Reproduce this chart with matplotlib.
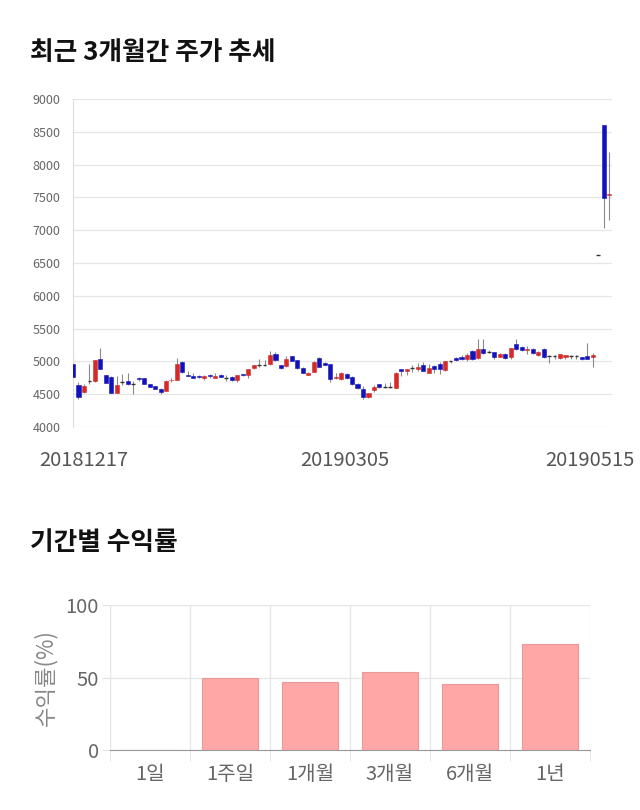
import matplotlib
matplotlib.use('Agg')
import matplotlib.pyplot as plt
import numpy as np

plt.rcParams['font.family'] = ['Noto Sans CJK KR', 'DejaVu Sans']

# daily candles, 20181217 ~ 20190515
opens = [4955, 4640, 4540, 4700, 4700, 5030, 4790, 4760, 4525, 4680,
         4700, 4660, 4750, 4745, 4650, 4625, 4585, 4550, 4710, 4715,
         4995, 4800, 4780, 4770, 4740, 4795, 4750, 4800, 4750, 4760,
         4720, 4810, 4800, 4895, 4940, 4945, 4955, 5115, 4940, 4930,
         5080, 5015, 4905, 4800, 4840, 5055, 4980, 4955, 4740, 4727,
         4813, 4762, 4660, 4585, 4450, 4560, 4650, 4610, 4610, 4600,
         4880, 4855, 4895, 4885, 4950, 4830, 4930, 4955, 4865, 5000,
         5045, 5065, 5030, 5165, 5055, 5190, 5145, 5145, 5070, 5120,
         5065, 5270, 5215, 5175, 5190, 5105, 5190, 5080, 5075, 5045,
         5060, 5080, 5080, 5065, 5075, 5065, 6622, 8604, 7540]
closes = [4760, 4450, 4625, 4700, 5015, 4890, 4675, 4525, 4640, 4680,
          4660, 4660, 4730, 4660, 4615, 4585, 4540, 4700, 4715, 4965,
          4840, 4780, 4750, 4755, 4780, 4775, 4780, 4765, 4750, 4710,
          4790, 4790, 4880, 4945, 4940, 4945, 5095, 5015, 4895, 5030,
          5005, 4895, 4830, 4830, 4995, 4920, 4945, 4730, 4760, 4830,
          4742, 4650, 4590, 4450, 4515, 4610, 4610, 4610, 4610, 4830,
          4855, 4880, 4895, 4920, 4855, 4905, 4890, 4880, 5005, 5000,
          5020, 5030, 5095, 5030, 5195, 5130, 5145, 5070, 5120, 5055,
          5205, 5190, 5170, 5185, 5125, 5145, 5070, 5080, 5075, 5115,
          5090, 5080, 5080, 5030, 5040, 5095, 6622, 7487, 7556]
highs = [5130, 4680, 4660, 4955, 5020, 5200, 4800, 4770, 4780, 4810,
         4820, 4700, 4760, 4750, 4660, 4630, 4600, 4720, 4740, 5045,
         5000, 4860, 4820, 4800, 4800, 4810, 4830, 4810, 4800, 4770,
         4800, 4815, 4885, 4950, 5030, 5020, 5165, 5150, 4945, 5080,
         5085, 5020, 4910, 4840, 5000, 5060, 4990, 4960, 4820, 4840,
         4820, 4770, 4665, 4620, 4520, 4640, 4660, 4670, 4690, 4840,
         4885, 4890, 4940, 4980, 4990, 4960, 4950, 4990, 5010, 5010,
         5060, 5090, 5130, 5170, 5340, 5340, 5170, 5150, 5130, 5130,
         5210, 5340, 5230, 5230, 5200, 5160, 5200, 5090, 5090, 5120,
         5095, 5090, 5090, 5070, 5280, 5130, 6622, 8604, 8197]
lows = [4750, 4420, 4520, 4650, 4680, 4890, 4670, 4520, 4520, 4640,
        4640, 4510, 4700, 4650, 4610, 4580, 4500, 4545, 4690, 4710,
        4830, 4770, 4740, 4740, 4720, 4740, 4740, 4760, 4700, 4700,
        4690, 4785, 4740, 4890, 4920, 4930, 4940, 5010, 4880, 4920,
        5000, 4890, 4820, 4790, 4835, 4910, 4940, 4680, 4730, 4720,
        4730, 4640, 4585, 4425, 4445, 4540, 4600, 4600, 4600, 4595,
        4780, 4800, 4840, 4850, 4850, 4820, 4830, 4810, 4860, 4980,
        5010, 5020, 5010, 5020, 5040, 5120, 5130, 5040, 5060, 5030,
        5030, 5180, 5160, 5110, 5110, 5080, 5050, 4980, 5040, 5040,
        5030, 5040, 5030, 5020, 5035, 4915, 6622, 7034, 7156]
date_labels = ['20181217', '20190305', '20190515']

# returns by period
periods = ['1일', '1주일', '1개월', '3개월', '6개월', '1년']
returns = [0, 50.0, 46.9, 54.0, 45.6, 73.3]

fig = plt.figure(figsize=(6.4, 8.1), dpi=100)

# ---- top: price trend
fig.text(30 / 640, 1 - 52 / 810, '최근 3개월간 주가 추세', fontsize=18.5,
         fontweight='bold', va='center', ha='left', color='#111111')
ax = fig.add_axes([73 / 640, 1 - 427 / 810, 539 / 640, 328 / 810])

x = np.arange(len(opens))
o = np.array(opens)
c = np.array(closes)
up = c > o
flat = c == o
cols = np.where(up, '#d42a2a', '#1212bb')

ax.vlines(x, lows, highs, color='#8a8a8a', linewidth=0.8, zorder=2)
ax.bar(x[~flat], np.abs(c - o)[~flat], bottom=np.minimum(o, c)[~flat],
       width=0.75, color=cols[~flat], edgecolor=cols[~flat], linewidth=0.4, zorder=3)
ax.hlines(o[flat], x[flat] - 0.35, x[flat] + 0.35, color='#333333', linewidth=1.0, zorder=3)

ax.set_xlim(0, len(opens) - 0.5)
ax.set_ylim(4000, 9000)
ax.set_yticks(np.arange(4000, 9001, 500))
ax.tick_params(axis='y', labelsize=9, colors='#666666', length=0, pad=9)
ax.set_xticks([])
ax.grid(axis='y', color='#e6e6e6', linewidth=0.9)
ax.set_axisbelow(True)
for s in ['top', 'right', 'bottom']:
    ax.spines[s].set_visible(False)
ax.spines['left'].set_color('#dddddd')

for lbl, px in zip(date_labels, [84, 345, 590]):
    fig.text(px / 640, 1 - 461 / 810, lbl, fontsize=14.5, color='#555555',
             ha='center', va='center')

# ---- bottom: returns
fig.text(30 / 640, 1 - 543 / 810, '기간별 수익률', fontsize=18.5,
         fontweight='bold', va='center', ha='left', color='#111111')
ax2 = fig.add_axes([110 / 640, 1 - 750 / 810, 480 / 640, 145 / 810])
pos = np.arange(len(periods))
ax2.bar(pos, returns, width=0.7, color='#ffa6a6', edgecolor='#e89a9a', linewidth=0.8, zorder=3)
ax2.set_xlim(-0.5, len(periods) - 0.5)
ax2.set_ylim(0, 100)
ax2.set_yticks([0, 50, 100])
ax2.set_xticks(pos)
ax2.set_xticklabels(periods)
ax2.set_xticks(np.arange(-0.5, len(periods), 1), minor=True)
ax2.tick_params(axis='both', which='major', labelsize=14.5, colors='#666666')
ax2.tick_params(axis='x', which='major', length=0, pad=10)
ax2.tick_params(axis='y', which='major', length=6, color='#e0e0e0', pad=2)
ax2.tick_params(axis='x', which='minor', length=8, color='#e0e0e0')
ax2.grid(axis='y', color='#e6e6e6', linewidth=0.9)
ax2.grid(axis='x', which='minor', color='#e6e6e6', linewidth=0.9)
ax2.set_axisbelow(True)
for s in ['top', 'right']:
    ax2.spines[s].set_visible(False)
ax2.spines['left'].set_color('#e6e6e6')
ax2.spines['bottom'].set_color('#999999')
ax2.set_ylabel('수익률(%)', fontsize=16, color='#888888', labelpad=6)

plt.savefig('out.png', dpi=100)
